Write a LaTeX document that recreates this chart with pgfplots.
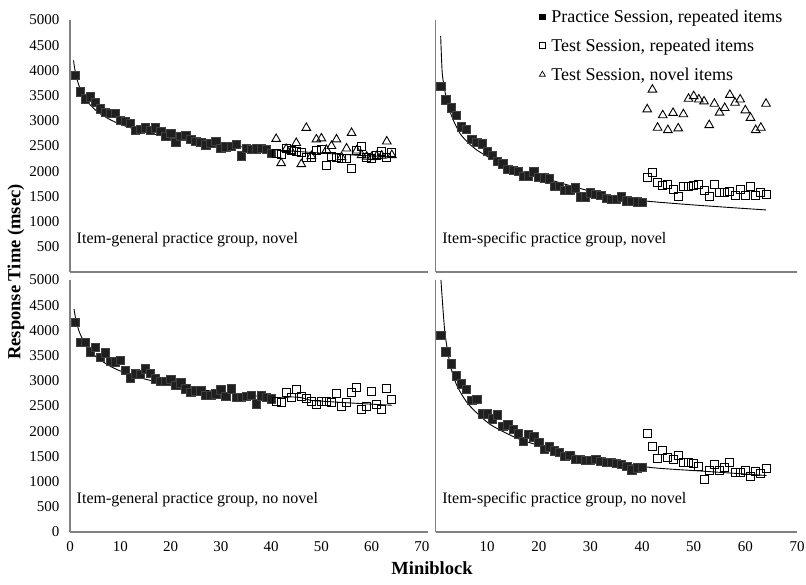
\documentclass[border=0pt]{standalone}
\usepackage{fontspec}
\setmainfont{Liberation Serif}
\usepackage{pgfplots}
\pgfplotsset{compat=1.18}
\definecolor{axgray}{RGB}{128,128,128}
\pgfplotsset{
  panel/.style={
    scale only axis,
    xmin=0, xmax=70, ymin=0, ymax=5000,
    axis x line*=bottom, axis y line*=left,
    axis line style={axgray, line width=1.3pt, -},
    major tick length=0pt,
    ytick={0,500,...,5000},
    xtick={0,10,...,70},
    tick label style={font=\fontsize{15}{18}\selectfont},
    yticklabel style={xshift=-7pt},
    xticklabel style={yshift=-6pt},
    /pgf/number format/assume math mode=true,
    /pgf/number format/set thousands separator={},
    anchor=south west,
  },
  prac/.style={only marks, mark=square*, mark size=4.2pt, black, mark options={fill=black!88, draw=black!75}},
  trep/.style={only marks, mark=square, mark size=4pt, black, mark options={line width=0.9pt}},
  tnov/.style={only marks, mark=triangle, mark size=5pt, black, mark options={line width=0.9pt}},
  fit/.style={black, line width=0.9pt, no marks, smooth, tension=0.4},
}
\tikzset{lab/.style={anchor=west, inner sep=0pt, font=\fontsize{16}{19}\selectfont}}
\begin{document}
\begin{tikzpicture}
\useasboundingbox (0,0) rectangle (806pt,584pt);
% ---------------- Top left
\begin{axis}[panel, at={(70pt,312pt)}, width=358pt, height=252pt, xmax=71.2, xtick=\empty, ytick={500,1000,...,5000}]
\addplot[fit] coordinates {(0.7,4198) (1,4000) (1.5,3787) (2,3643) (3,3449) (4,3318) (5,3219) (6,3140) (8,3021) (10,2931) (13,2829) (16,2751) (20,2670) (25,2590) (30,2527) (35,2475) (40,2431) (45,2393) (50,2359) (55,2329) (60,2302) (64,2282)};
\addplot[prac] table {
x y
1 3906
2 3577
3 3437
4 3482
5 3372
6 3241
7 3176
8 3150
9 3150
10 3012
11 2990
12 2947
13 2816
14 2830
15 2860
16 2816
17 2860
18 2795
19 2699
20 2750
21 2575
22 2699
23 2720
24 2640
25 2600
26 2575
27 2523
28 2555
29 2600
30 2458
31 2490
32 2500
33 2530
34 2307
35 2458
36 2440
37 2445
38 2458
39 2440
40 2360
};
\addplot[trep] table {
x y
41 2360
42 2327
43 2445
44 2405
45 2393
46 2380
47 2276
48 2276
49 2413
50 2438
51 2119
52 2295
53 2276
54 2249
55 2249
56 2053
57 2405
58 2491
59 2270
60 2249
61 2315
62 2393
63 2276
64 2372
};
\addplot[tnov] table {
x y
41 2640
42 2160
43 2440
44 2400
45 2560
46 2140
47 2860
48 2300
49 2630
50 2650
51 2420
52 2500
53 2630
54 2280
55 2450
56 2760
57 2410
58 2320
59 2290
60 2280
61 2300
62 2310
63 2590
64 2320
};
\node[lab] at (axis cs:1.3,640) {Item-general practice group, novel};
\end{axis}
% ---------------- Top right
\begin{axis}[panel, at={(435.5pt,312pt)}, width=361.5pt, height=252pt, xtick=\empty, ytick=\empty,
  legend style={at={(0.287,1.05)}, anchor=north west, draw=none, fill=none, inner sep=0pt,
    font=\fontsize{18}{21}\selectfont, row sep=11pt, column sep=4pt, cells={anchor=west}},
  legend image code/.code={\draw[mark repeat=2,mark phase=2,#1] plot coordinates {(0pt,0pt) (4pt,0pt) (8pt,0pt)};}]
\addlegendimage{only marks, mark=square*, mark size=2.8pt, black}
\addlegendentry{Practice Session, repeated items}
\addlegendimage{only marks, mark=square, mark size=2.8pt, black, mark options={line width=0.7pt}}
\addlegendentry{Test Session, repeated items}
\addlegendimage{only marks, mark=triangle, mark size=3.4pt, black, mark options={line width=0.7pt}}
\addlegendentry{Test Session, novel items}
\addplot[fit, forget plot] coordinates {(1.0,4680) (1.3,3950) (1.8,3600) (2.5,3280) (3.5,3000) (4.8,2740) (6.4,2556) (8,2420) (10,2295) (13.3,2131) (18.4,1935) (22.9,1806) (29.3,1622) (35,1500) (40,1415) (50,1330) (64,1231)};
\addplot[prac, forget plot] table {
x y
1 3685
2 3417
3 3260
4 3110
5 2883
6 2836
7 2640
8 2575
9 2543
10 2393
11 2315
12 2197
13 2145
14 2034
15 2021
16 2002
17 1904
18 1910
19 1988
20 1884
21 1871
22 1851
23 1708
24 1697
25 1622
26 1636
27 1675
28 1493
29 1493
30 1577
31 1545
32 1525
33 1466
34 1447
35 1447
36 1493
37 1414
38 1401
39 1395
40 1382
};
\addplot[trep, forget plot] table {
x y
41 1884
42 1969
43 1773
44 1708
45 1728
46 1642
47 1499
48 1689
49 1689
50 1720
51 1728
52 1611
53 1499
54 1728
55 1577
56 1577
57 1590
58 1512
59 1642
60 1512
61 1695
62 1512
63 1577
64 1545
};
\addplot[tnov, forget plot] table {
x y
41 3227
42 3619
43 2863
44 3110
45 2816
46 3156
47 2849
48 3130
49 3437
50 3489
51 3423
52 3384
53 2914
54 3339
55 3162
56 3254
57 3515
58 3358
59 3423
60 3208
61 3059
62 2816
63 2863
64 3339
};
\node[lab] at (axis cs:1.3,640) {Item-specific practice group, novel};
\end{axis}
% ---------------- Bottom left
\begin{axis}[panel, at={(70pt,52pt)}, width=358pt, height=252pt, xmax=71.2]
\addplot[fit] coordinates {(0.8,4425) (1,4300) (1.5,4081) (2,3932) (3,3732) (4,3596) (5,3494) (6,3413) (8,3289) (10,3195) (13,3089) (16,3007) (20,2921) (25,2839) (30,2773) (35,2718) (40,2672) (42,2660) (44,2680) (46,2665) (48,2610) (50,2596) (55,2565) (60,2536) (64,2515)};
\addplot[prac] table {
x y
1 4163
2 3766
3 3766
4 3575
5 3667
6 3468
7 3555
8 3389
9 3376
10 3403
11 3210
12 3059
13 3139
14 3125
15 3238
16 3145
17 3039
18 2992
19 2992
20 3026
21 2907
22 2960
23 2847
24 2774
25 2807
26 2807
27 2714
28 2714
29 2741
30 2827
31 2694
32 2847
33 2674
34 2674
35 2694
36 2714
37 2543
38 2708
39 2674
40 2648
};
\addplot[trep] table {
x y
41 2595
42 2563
43 2774
44 2674
45 2827
46 2694
47 2642
48 2595
49 2523
50 2583
51 2583
52 2563
53 2741
54 2484
55 2563
56 2774
57 2860
58 2430
59 2484
60 2794
61 2530
62 2430
63 2841
64 2629
};
\node[lab] at (axis cs:1.3,640) {Item-general practice group, no novel};
\end{axis}
% ---------------- Bottom right
\begin{axis}[panel, at={(435.5pt,52pt)}, width=361.5pt, height=252pt, ytick=\empty, xtick={10,20,...,70}]
\addplot[fit] coordinates {(1.05,5000) (1.5,4350) (1.9,3885) (2.9,3290) (4.2,2893) (6.4,2530) (10.6,2133) (16.4,1835) (22.9,1637) (29.3,1472) (35.8,1373) (42.2,1274) (51.9,1206) (64.1,1121)};
\addplot[prac] table {
x y
1 3900
2 3575
3 3340
4 3105
5 2940
6 2830
7 2610
8 2630
9 2350
10 2350
11 2250
12 2330
13 2100
14 2130
15 2035
16 1950
17 1800
18 1935
19 1890
20 1780
21 1640
22 1690
23 1615
24 1585
25 1505
26 1520
27 1450
28 1440
29 1425
30 1420
31 1440
32 1405
33 1385
34 1385
35 1370
36 1350
37 1305
38 1240
39 1275
40 1285
};
\addplot[trep] table {
x y
41 1948
42 1702
43 1452
44 1623
45 1484
46 1438
47 1524
48 1373
49 1373
50 1353
51 1306
52 1042
53 1226
54 1339
55 1226
56 1274
57 1385
58 1174
59 1174
60 1220
61 1107
62 1194
63 1155
64 1254
};
\node[lab] at (axis cs:1.3,640) {Item-specific practice group, no novel};
\end{axis}
\node[rotate=90, font=\bfseries\fontsize{18.5}{22}\selectfont] at (16pt,312pt) {Response Time (msec)};
\node[font=\bfseries\fontsize{18.5}{22}\selectfont] at (432pt,16pt) {Miniblock};
\end{tikzpicture}
\end{document}
